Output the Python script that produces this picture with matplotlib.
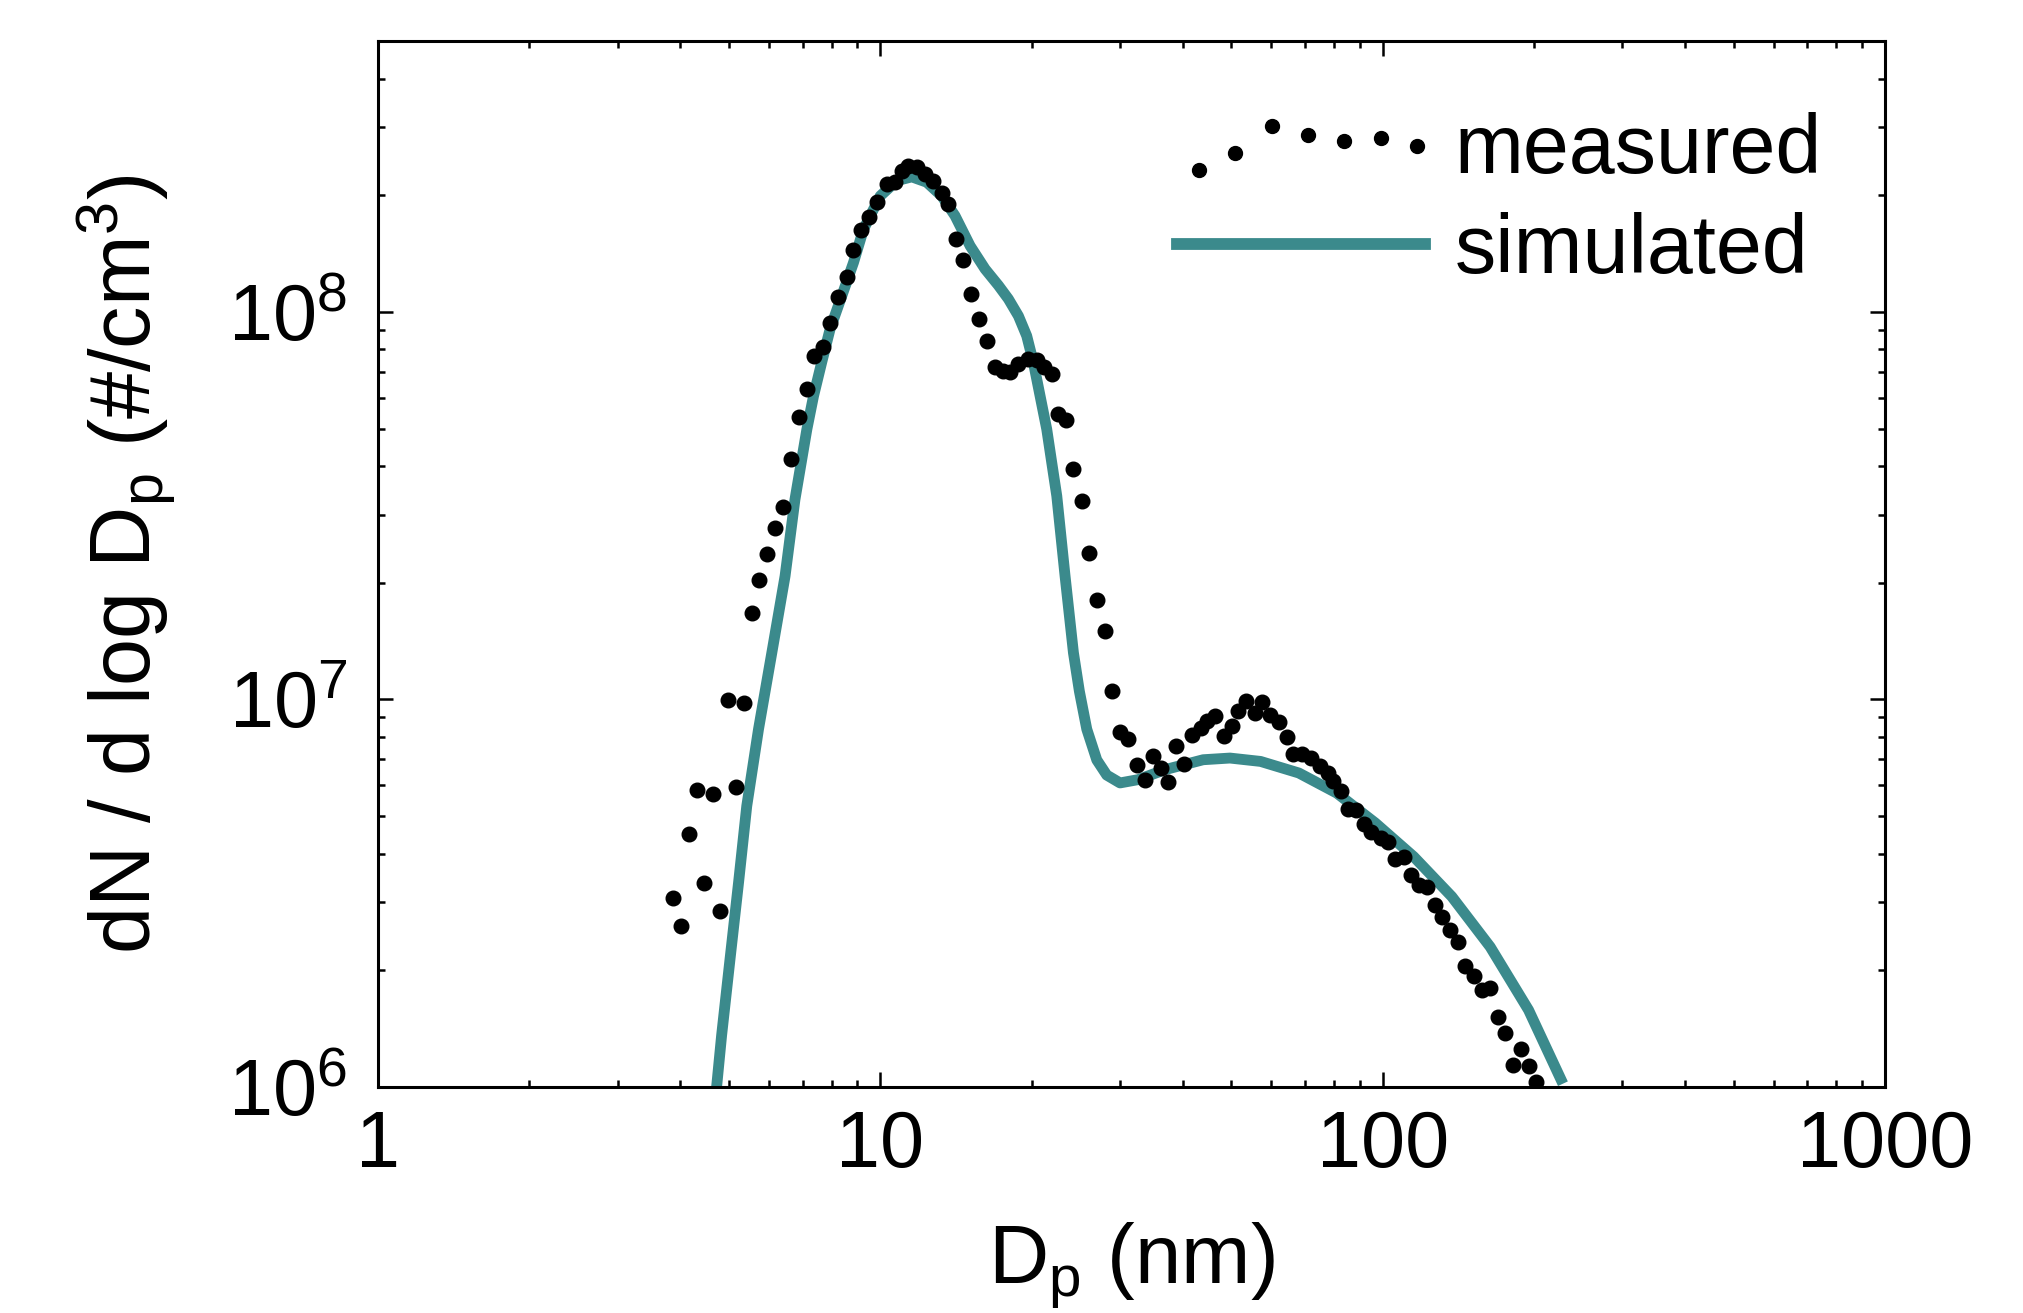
# Size distribution: measured vs simulated dN/dlogDp
import matplotlib
matplotlib.use('Agg')
import matplotlib.pyplot as plt
import numpy as np
from matplotlib.lines import Line2D
from matplotlib.legend_handler import HandlerBase
from matplotlib.ticker import FixedLocator, FixedFormatter, LogLocator, NullFormatter

plt.rcParams['font.family'] = ['Liberation Sans', 'DejaVu Sans']
plt.rcParams['mathtext.fontset'] = 'custom'
plt.rcParams['mathtext.rm'] = 'Liberation Sans'
plt.rcParams['mathtext.it'] = 'Liberation Sans:italic'
plt.rcParams['mathtext.bf'] = 'Liberation Sans:bold'

# measured points (Dp in nm, dN/dlogDp in #/cm3)
dp_meas = [3.87, 4.01, 4.16, 4.31, 4.46, 4.64, 4.80, 4.98, 5.16, 5.35, 5.55, 5.74,
           5.96, 6.17, 6.41, 6.64, 6.90, 7.14, 7.36, 7.68, 7.94, 8.25, 8.57, 8.84,
           9.15, 9.51, 9.83, 10.30, 10.70, 11.03, 11.37, 11.82, 12.27, 12.75, 13.25,
           13.66, 14.15, 14.63, 15.16, 15.75, 16.28, 16.92, 17.58, 18.12, 18.83,
           19.71, 20.48, 21.18, 21.94, 22.61, 23.43, 24.23, 25.18, 26.07, 27.04,
           28.02, 28.96, 30.0, 31.17, 32.49, 33.64, 34.85, 36.22, 37.38, 38.70,
           40.21, 41.66, 43.54, 44.69, 46.45, 48.21, 50.11, 51.6, 53.55, 55.65,
           57.43, 59.68, 62.06, 64.39, 66.33, 69.07, 72.05, 74.99, 77.67, 79.73,
           82.6, 85.5, 88.6, 91.7, 95.0, 99.3, 102.3, 105.6, 110.3, 113.7, 118.3,
           122.6, 126.9, 131.5, 136.1, 141.0, 146.0, 152.1, 157.5, 163.7, 169.6,
           175.6, 181.9, 188.4, 195.2, 202.1]
n_meas = [3.08e6, 2.61e6, 4.50e6, 5.85e6, 3.37e6, 5.71e6, 2.84e6, 9.94e6, 5.93e6,
          9.78e6, 1.67e7, 2.03e7, 2.37e7, 2.77e7, 3.14e7, 4.18e7, 5.37e7, 6.34e7,
          7.70e7, 8.13e7, 9.35e7, 1.09e8, 1.23e8, 1.44e8, 1.63e8, 1.76e8, 1.92e8,
          2.14e8, 2.16e8, 2.31e8, 2.38e8, 2.36e8, 2.27e8, 2.18e8, 2.03e8, 1.90e8,
          1.54e8, 1.36e8, 1.11e8, 9.61e7, 8.41e7, 7.22e7, 7.04e7, 7.00e7, 7.32e7,
          7.55e7, 7.51e7, 7.22e7, 6.93e7, 5.44e7, 5.26e7, 3.94e7, 3.25e7, 2.39e7,
          1.81e7, 1.50e7, 1.05e7, 8.24e6, 7.91e6, 6.79e6, 6.21e6, 7.13e6, 6.65e6,
          6.11e6, 7.60e6, 6.83e6, 8.11e6, 8.44e6, 8.78e6, 9.04e6, 8.06e6, 8.52e6,
          9.32e6, 9.93e6, 9.23e6, 9.83e6, 9.13e6, 8.73e6, 8.00e6, 7.24e6, 7.24e6,
          7.06e6, 6.72e6, 6.46e6, 6.15e6, 5.79e6, 5.21e6, 5.19e6, 4.78e6, 4.54e6,
          4.39e6, 4.28e6, 3.87e6, 3.93e6, 3.53e6, 3.32e6, 3.29e6, 2.95e6, 2.74e6,
          2.54e6, 2.37e6, 2.05e6, 1.93e6, 1.78e6, 1.80e6, 1.52e6, 1.38e6, 1.14e6,
          1.25e6, 1.13e6, 1.03e6]

# simulated curve
dp_sim = [4.72, 4.83, 5.02, 5.22, 5.42, 5.72, 6.08, 6.46, 6.76, 7.14, 7.36, 7.64,
          7.94, 8.38, 8.84, 9.25, 9.99, 10.78, 11.55, 12.37, 13.25, 14.08, 15.09,
          16.16, 17.18, 17.98, 18.83, 19.56, 20.17, 20.80, 21.44, 21.94, 22.45,
          23.32, 24.23, 24.90, 25.76, 26.97, 28.23, 30.0, 32.6, 36.86, 43.92,
          49.66, 57.14, 68.1, 81.1, 96.7, 115.3, 137.3, 163.7, 195.2, 228.5]
n_sim = [1.0e6, 1.36e6, 2.14e6, 3.37e6, 5.31e6, 8.38e6, 1.32e7, 2.08e7, 3.28e7,
         4.98e7, 6.06e7, 7.40e7, 9.02e7, 1.10e8, 1.34e8, 1.63e8, 1.99e8, 2.18e8,
         2.23e8, 2.16e8, 1.99e8, 1.77e8, 1.48e8, 1.29e8, 1.17e8, 1.08e8, 9.76e7,
         8.67e7, 7.40e7, 6.06e7, 4.98e7, 4.08e7, 3.35e7, 2.08e7, 1.32e7, 1.05e7,
         8.38e6, 6.98e6, 6.38e6, 6.09e6, 6.21e6, 6.59e6, 6.99e6, 7.06e6, 6.92e6,
         6.46e6, 5.73e6, 4.80e6, 3.93e6, 3.10e6, 2.30e6, 1.58e6, 1.02e6]

x_ticks = [1, 10, 100, 1000]
x_labels = ['1', '10', '100', '1000']

teal = '#3b8a8c'
fs = 57


class WavyDots(HandlerBase):
    # legend glyph: a short irregular row of dots
    def create_artists(self, legend, orig_handle, xdescent, ydescent,
                       width, height, fontsize, trans):
        xs = np.linspace(0.09 * width, width * 0.97, 7) - xdescent
        wob = np.array([-0.45, -0.15, 0.32, 0.15, 0.05, 0.1, -0.03])
        ys = height / 2 - ydescent + height * wob
        ln = Line2D(xs, ys, ls='none', marker='o', color='k', markersize=10)
        ln.set_transform(trans)
        return [ln]


fig = plt.figure(figsize=(20.24, 13.13), dpi=100)
ax = fig.add_axes([0.1868, 0.1721, 0.7445, 0.7967])

ax.plot(dp_sim, n_sim, '-', color=teal, lw=7.8, solid_capstyle='butt', zorder=2)
meas, = ax.plot(dp_meas, n_meas, 'o', color='k', markersize=10.5, ls='none', zorder=3)
sim = Line2D([], [], color=teal, lw=8.5)

ax.set_xscale('log')
ax.set_yscale('log')
ax.set_xlim(1, 1000)
ax.set_ylim(1e6, 5e8)

ax.xaxis.set_major_locator(FixedLocator(x_ticks))
ax.xaxis.set_major_formatter(FixedFormatter(x_labels))
ax.xaxis.set_minor_locator(LogLocator(base=10, subs=np.arange(2, 10)))
ax.xaxis.set_minor_formatter(NullFormatter())
ax.yaxis.set_major_locator(LogLocator(base=10, numticks=10))
ax.yaxis.set_minor_locator(LogLocator(base=10, subs=np.arange(2, 10), numticks=10))
ax.yaxis.set_minor_formatter(NullFormatter())

ax.tick_params(which='both', direction='in', top=True, right=True, width=1.8)
ax.tick_params(which='major', length=10.5)
ax.tick_params(which='minor', length=5)
ax.tick_params(axis='x', labelsize=fs, pad=16)
ax.tick_params(axis='y', labelsize=fs, pad=22)
for sp in ax.spines.values():
    sp.set_linewidth(2.2)

ax.set_xlabel(r'D$_\mathregular{p}$ (nm)', fontsize=60, labelpad=26)
ax.set_ylabel(r'dN / d log D$_\mathregular{p}$ (#/cm$^\mathregular{3}$)', fontsize=61, labelpad=36)

ax.legend([meas, sim], ['measured', 'simulated'], handler_map={meas: WavyDots()},
          loc='upper right', bbox_to_anchor=(0.958, 0.932), frameon=False,
          fontsize=59.5, handlelength=3.0, handletextpad=0.36, labelspacing=0.27,
          borderpad=0, borderaxespad=0)

fig.savefig('out.png', dpi=100)
